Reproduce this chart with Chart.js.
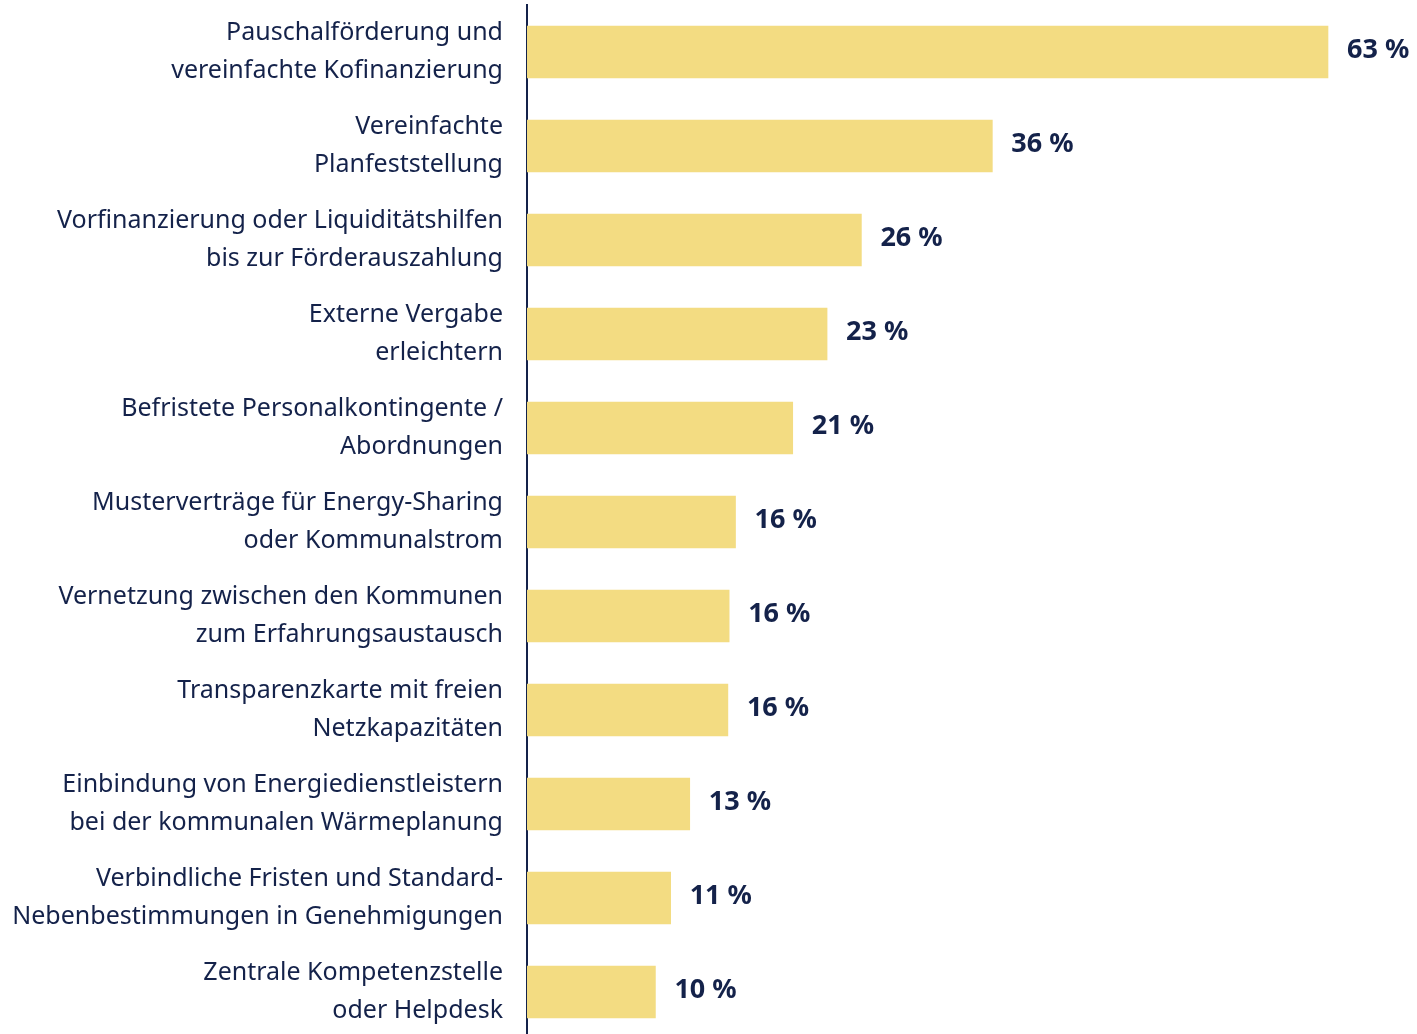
<!DOCTYPE html>
<html>
<head>
<meta charset="utf-8">
<script src="https://cdn.jsdelivr.net/npm/chart.js"></script>
<style>
  html, body { margin: 0; padding: 0; background: #fff; overflow: hidden; }
  #wrap { width: 1417px; height: 1040px; position: relative; }
</style>
</head>
<body>
<div id="wrap"><canvas id="chart"></canvas></div>
<script>
// Kategorien (zweizeilig wie im Original)
const categories = [
  ['Pauschalförderung und', 'vereinfachte Kofinanzierung'],
  ['Vereinfachte', 'Planfeststellung'],
  ['Vorfinanzierung oder Liquiditätshilfen', 'bis zur Förderauszahlung'],
  ['Externe Vergabe', 'erleichtern'],
  ['Befristete Personalkontingente /', 'Abordnungen'],
  ['Musterverträge für Energy-Sharing', 'oder Kommunalstrom'],
  ['Vernetzung zwischen den Kommunen', 'zum Erfahrungsaustausch'],
  ['Transparenzkarte mit freien', 'Netzkapazitäten'],
  ['Einbindung von Energiedienstleistern', 'bei der kommunalen Wärmeplanung'],
  ['Verbindliche Fristen und Standard-', 'Nebenbestimmungen in Genehmigungen'],
  ['Zentrale Kompetenzstelle', 'oder Helpdesk']
];

const shares = [63.0, 36.6, 26.3, 23.6, 20.9, 16.4, 15.9, 15.8, 12.8, 11.3, 10.1];

// angezeigte Werte
const valueLabels = ['63 %', '36 %', '26 %', '23 %', '21 %', '16 %', '16 %', '16 %', '13 %', '11 %', '10 %'];

const navy = '#14224a';
const barColor = '#f3dc82';
const fontFamily = '"Noto Sans", "Open Sans", sans-serif';

// Werte rechts neben den Balken
const valueLabelPlugin = {
  id: 'valueLabels',
  afterDatasetsDraw(chart) {
    const ctx = chart.ctx;
    const meta = chart.getDatasetMeta(0);
    ctx.save();
    ctx.font = 'bold 27px ' + fontFamily;
    ctx.fillStyle = navy;
    ctx.textAlign = 'left';
    ctx.textBaseline = 'middle';
    meta.data.forEach((bar, i) => {
      ctx.fillText(valueLabels[i], bar.x + 19, bar.y - 2);
    });
    ctx.restore();
  }
};

new Chart(document.getElementById('chart'), {
  type: 'bar',
  data: {
    labels: categories,
    datasets: [{
      data: shares,
      backgroundColor: barColor,
      borderWidth: 0,
      barThickness: 52
    }]
  },
  options: {
    indexAxis: 'y',
    responsive: true,
    maintainAspectRatio: false,
    animation: false,
    layout: { padding: { top: 5, bottom: 1, left: 0, right: 0 } },
    plugins: {
      legend: { display: false },
      tooltip: { enabled: false }
    },
    scales: {
      x: {
        display: false,
        min: 0,
        max: 70
      },
      y: {
        afterFit(scale) {
          scale.width = 527;
          scale.paddingTop = 0;
          scale.paddingBottom = 0;
        },
        grid: { display: false, drawTicks: false },
        border: { display: true, color: navy, width: 2 },
        ticks: {
          color: navy,
          padding: 24,
          font: { family: fontFamily, size: 25, lineHeight: 1.52 }
        }
      }
    }
  },
  plugins: [valueLabelPlugin]
});
</script>
</body>
</html>
